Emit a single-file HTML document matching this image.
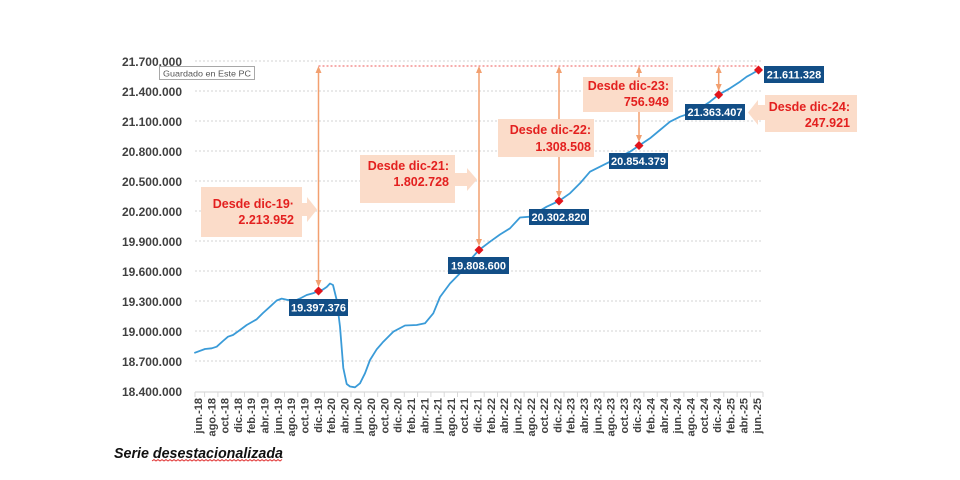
<!DOCTYPE html>
<html><head><meta charset="utf-8"><style>
html,body{margin:0;padding:0;background:#fff;}
svg{display:block;}
text{font-family:"Liberation Sans",Arial,sans-serif;}
</style></head><body>
<svg width="960" height="480" viewBox="0 0 960 480" xmlns="http://www.w3.org/2000/svg">
<rect width="960" height="480" fill="#fff"/>
<!-- gridlines -->
<g stroke="#d3d3d3" stroke-width="1" stroke-dasharray="2 2">
<line x1="195" y1="61" x2="763" y2="61"/>
<line x1="195" y1="91" x2="763" y2="91"/>
<line x1="195" y1="121" x2="763" y2="121"/>
<line x1="195" y1="151" x2="763" y2="151"/>
<line x1="195" y1="181" x2="763" y2="181"/>
<line x1="195" y1="211" x2="763" y2="211"/>
<line x1="195" y1="241" x2="763" y2="241"/>
<line x1="195" y1="271" x2="763" y2="271"/>
<line x1="195" y1="301" x2="763" y2="301"/>
<line x1="195" y1="331" x2="763" y2="331"/>
<line x1="195" y1="361" x2="763" y2="361"/>
</g>
<line x1="195" y1="392" x2="763" y2="392" stroke="#d9d9d9" stroke-width="1.2"/>
<g stroke="#d9d9d9" stroke-width="1">
<line x1="195" y1="392" x2="195" y2="397"/><line x1="204.6" y1="392" x2="204.6" y2="397"/><line x1="217.9" y1="392" x2="217.9" y2="397"/><line x1="231.2" y1="392" x2="231.2" y2="397"/><line x1="244.5" y1="392" x2="244.5" y2="397"/><line x1="257.9" y1="392" x2="257.9" y2="397"/><line x1="271.2" y1="392" x2="271.2" y2="397"/><line x1="284.5" y1="392" x2="284.5" y2="397"/><line x1="297.8" y1="392" x2="297.8" y2="397"/><line x1="311.1" y1="392" x2="311.1" y2="397"/><line x1="324.4" y1="392" x2="324.4" y2="397"/><line x1="337.7" y1="392" x2="337.7" y2="397"/><line x1="351" y1="392" x2="351" y2="397"/><line x1="364.4" y1="392" x2="364.4" y2="397"/><line x1="377.7" y1="392" x2="377.7" y2="397"/><line x1="391" y1="392" x2="391" y2="397"/><line x1="404.3" y1="392" x2="404.3" y2="397"/><line x1="417.6" y1="392" x2="417.6" y2="397"/><line x1="430.9" y1="392" x2="430.9" y2="397"/><line x1="444.2" y1="392" x2="444.2" y2="397"/><line x1="457.5" y1="392" x2="457.5" y2="397"/><line x1="470.9" y1="392" x2="470.9" y2="397"/><line x1="484.2" y1="392" x2="484.2" y2="397"/><line x1="497.5" y1="392" x2="497.5" y2="397"/><line x1="510.8" y1="392" x2="510.8" y2="397"/><line x1="524.1" y1="392" x2="524.1" y2="397"/><line x1="537.4" y1="392" x2="537.4" y2="397"/><line x1="550.7" y1="392" x2="550.7" y2="397"/><line x1="564" y1="392" x2="564" y2="397"/><line x1="577.4" y1="392" x2="577.4" y2="397"/><line x1="590.7" y1="392" x2="590.7" y2="397"/><line x1="604" y1="392" x2="604" y2="397"/><line x1="617.3" y1="392" x2="617.3" y2="397"/><line x1="630.6" y1="392" x2="630.6" y2="397"/><line x1="643.9" y1="392" x2="643.9" y2="397"/><line x1="657.2" y1="392" x2="657.2" y2="397"/><line x1="670.5" y1="392" x2="670.5" y2="397"/><line x1="683.9" y1="392" x2="683.9" y2="397"/><line x1="697.2" y1="392" x2="697.2" y2="397"/><line x1="710.5" y1="392" x2="710.5" y2="397"/><line x1="723.8" y1="392" x2="723.8" y2="397"/><line x1="737.1" y1="392" x2="737.1" y2="397"/><line x1="750.4" y1="392" x2="750.4" y2="397"/><line x1="763" y1="392" x2="763" y2="397"/>
</g>
<!-- y labels -->
<g font-size="12" font-weight="bold" fill="#404040" text-anchor="end">
<text x="182" y="66">21.700.000</text>
<text x="182" y="96">21.400.000</text>
<text x="182" y="126">21.100.000</text>
<text x="182" y="156">20.800.000</text>
<text x="182" y="186">20.500.000</text>
<text x="182" y="216">20.200.000</text>
<text x="182" y="246">19.900.000</text>
<text x="182" y="276">19.600.000</text>
<text x="182" y="306">19.300.000</text>
<text x="182" y="336">19.000.000</text>
<text x="182" y="366">18.700.000</text>
<text x="182" y="396">18.400.000</text>
</g>
<!-- x labels -->
<g font-size="11" font-weight="bold" fill="#404040" text-anchor="end">
<text transform="translate(202,398) rotate(-90)">jun.-18</text>
<text transform="translate(215.3,398) rotate(-90)">ago.-18</text>
<text transform="translate(228.6,398) rotate(-90)">oct.-18</text>
<text transform="translate(241.9,398) rotate(-90)">dic.-18</text>
<text transform="translate(255.2,398) rotate(-90)">feb.-19</text>
<text transform="translate(268.6,398) rotate(-90)">abr.-19</text>
<text transform="translate(281.9,398) rotate(-90)">jun.-19</text>
<text transform="translate(295.2,398) rotate(-90)">ago.-19</text>
<text transform="translate(308.5,398) rotate(-90)">oct.-19</text>
<text transform="translate(321.8,398) rotate(-90)">dic.-19</text>
<text transform="translate(335.1,398) rotate(-90)">feb.-20</text>
<text transform="translate(348.4,398) rotate(-90)">abr.-20</text>
<text transform="translate(361.7,398) rotate(-90)">jun.-20</text>
<text transform="translate(375,398) rotate(-90)">ago.-20</text>
<text transform="translate(388.3,398) rotate(-90)">oct.-20</text>
<text transform="translate(401.7,398) rotate(-90)">dic.-20</text>
<text transform="translate(415,398) rotate(-90)">feb.-21</text>
<text transform="translate(428.3,398) rotate(-90)">abr.-21</text>
<text transform="translate(441.6,398) rotate(-90)">jun.-21</text>
<text transform="translate(454.9,398) rotate(-90)">ago.-21</text>
<text transform="translate(468.2,398) rotate(-90)">oct.-21</text>
<text transform="translate(481.5,398) rotate(-90)">dic.-21</text>
<text transform="translate(494.8,398) rotate(-90)">feb.-22</text>
<text transform="translate(508.1,398) rotate(-90)">abr.-22</text>
<text transform="translate(521.4,398) rotate(-90)">jun.-22</text>
<text transform="translate(534.8,398) rotate(-90)">ago.-22</text>
<text transform="translate(548.1,398) rotate(-90)">oct.-22</text>
<text transform="translate(561.4,398) rotate(-90)">dic.-22</text>
<text transform="translate(574.7,398) rotate(-90)">feb.-23</text>
<text transform="translate(588,398) rotate(-90)">abr.-23</text>
<text transform="translate(601.3,398) rotate(-90)">jun.-23</text>
<text transform="translate(614.6,398) rotate(-90)">ago.-23</text>
<text transform="translate(627.9,398) rotate(-90)">oct.-23</text>
<text transform="translate(641.2,398) rotate(-90)">dic.-23</text>
<text transform="translate(654.5,398) rotate(-90)">feb.-24</text>
<text transform="translate(667.9,398) rotate(-90)">abr.-24</text>
<text transform="translate(681.2,398) rotate(-90)">jun.-24</text>
<text transform="translate(694.5,398) rotate(-90)">ago.-24</text>
<text transform="translate(707.8,398) rotate(-90)">oct.-24</text>
<text transform="translate(721.1,398) rotate(-90)">dic.-24</text>
<text transform="translate(734.4,398) rotate(-90)">feb.-25</text>
<text transform="translate(747.7,398) rotate(-90)">abr.-25</text>
<text transform="translate(761,398) rotate(-90)">jun.-25</text>
</g>
<!-- red dotted top line -->
<line x1="318.5" y1="66" x2="758.5" y2="66" stroke="#ee5a5a" stroke-width="1" stroke-dasharray="2 2"/>
<!-- orange arrows -->
<g stroke="#f2a070" stroke-width="1.5">
<line x1="318.5" y1="68" x2="318.5" y2="285"/>
<line x1="479" y1="68" x2="479" y2="244"/>
<line x1="559" y1="68" x2="559" y2="196"/>
<line x1="639" y1="68" x2="639" y2="140"/>
<line x1="718.7" y1="68" x2="718.7" y2="89"/>
</g>
<g fill="#f2a070">
<polygon points="315.5,73 318.5,66 321.5,73"/><polygon points="315.5,280 318.5,287 321.5,280"/>
<polygon points="476,73 479,66 482,73"/><polygon points="476,239 479,246 482,239"/>
<polygon points="556,73 559,66 562,73"/><polygon points="556,191 559,198 562,191"/>
<polygon points="636,73 639,66 642,73"/><polygon points="636,135 639,142 642,135"/>
<polygon points="715.7,73 718.7,66 721.7,73"/><polygon points="715.7,84 718.7,91 721.7,84"/>
</g>
<!-- curve -->
<polyline fill="none" stroke="#3a9bd8" stroke-width="1.8" stroke-linejoin="round" stroke-linecap="round" points="195,352.7 205,349 211.7,348.3 216.7,346.7 223,341 228,336.7 233,335 240,330 246.7,325 256.7,319.3 263,313 270,306.7 276.7,300.5 281.7,298.6 286.7,299.8 295,300.7 300,298.5 306.7,295 313,293.3 318.5,291 323,289.5 326.7,287 330,283.5 333,285 336.7,300 340,326.7 343.3,368 346.7,384 350,386.5 355,387.3 360,383.3 365,373.3 370,360 376.7,349.3 383.3,341.7 393.3,331.7 405,325.5 416.7,325 425,323.3 433.3,313.3 440,297 450,283.5 460,273.3 470,260 479,250 490,241.7 500,234.5 510,228.3 520,217.5 530,216.7 546.7,206.7 559,201 570,193.3 580,183.3 590,171.7 600,166.7 610,161.7 620,156.7 630,151.7 639,145.6 650,138.3 660,130 670,121.7 680,116.7 690,113.3 700,108.3 710,101.7 718.7,94.7 730,88.3 740,81.7 746.7,76.7 751.7,74 758.5,70"/>
<!-- peach callouts -->
<g fill="#fbdcc9">
<rect x="201" y="187" width="101" height="50"/>
<polygon points="302,203 307,203 307,197 317,209.5 307,222 307,216 302,216"/>
<rect x="360" y="155" width="95" height="48"/>
<polygon points="455,173 467,173 467,168 477,179.5 467,191 467,186 455,186"/>
<rect x="498" y="119" width="96" height="38"/>
<rect x="583" y="77" width="90" height="35"/>
<rect x="765" y="95" width="92" height="37"/>
<polygon points="765,105 758,105 758,100 748,112.5 758,125 758,120 765,120"/>
</g>
<g font-size="12.5" font-weight="bold" fill="#e3201f" text-anchor="end">
<text x="294" y="208">Desde dic-19·</text>
<text x="294" y="224">2.213.952</text>
<text x="449" y="170">Desde dic-21:</text>
<text x="449" y="186">1.802.728</text>
<text x="591" y="134">Desde dic-22:</text>
<text x="591" y="151">1.308.508</text>
<text x="669" y="90">Desde dic-23:</text>
<text x="669" y="106">756.949</text>
<text x="850" y="111">Desde dic-24:</text>
<text x="850" y="127">247.921</text>
</g>
<!-- markers -->
<g fill="#e2141c">
<polygon points="318.5,286.5 323,291 318.5,295.5 314,291"/>
<polygon points="479,245.5 483.5,250 479,254.5 474.5,250"/>
<polygon points="559,196.5 563.5,201 559,205.5 554.5,201"/>
<polygon points="639,141 643.5,145.6 639,150 634.5,145.6"/>
<polygon points="718.7,90.2 723.2,94.7 718.7,99.2 714.2,94.7"/>
<polygon points="758.5,65.5 763,70 758.5,74.5 754,70"/>
</g>
<!-- blue value labels -->
<g fill="#124e86">
<rect x="289" y="299" width="59" height="17"/>
<rect x="448" y="257" width="61" height="17"/>
<rect x="529" y="209" width="60" height="16"/>
<rect x="609" y="153" width="59" height="16"/>
<rect x="685" y="104" width="60" height="16"/>
<rect x="764" y="66" width="60" height="17"/>
</g>
<g font-size="11" font-weight="bold" fill="#fff" text-anchor="middle">
<text x="318.5" y="311.5">19.397.376</text>
<text x="478.5" y="269.5">19.808.600</text>
<text x="559" y="221">20.302.820</text>
<text x="638.5" y="165">20.854.379</text>
<text x="715" y="116">21.363.407</text>
<text x="794" y="78.5">21.611.328</text>
</g>
<!-- tooltip -->
<rect x="159.5" y="66.5" width="95" height="13" fill="#fff" stroke="#a8a8a8" stroke-width="1"/>
<text x="163" y="76.5" font-size="8.5" fill="#555" textLength="88" lengthAdjust="spacingAndGlyphs">Guardado en Este PC</text>
<!-- footnote -->
<text x="114" y="458" font-size="14.5" font-weight="bold" font-style="italic" fill="#111" textLength="169" lengthAdjust="spacingAndGlyphs">Serie desestacionalizada</text>
<path d="M152,461 l2,-1.5 l2,1.5 l2,-1.5 l2,1.5 l2,-1.5 l2,1.5 l2,-1.5 l2,1.5 l2,-1.5 l2,1.5 l2,-1.5 l2,1.5 l2,-1.5 l2,1.5 l2,-1.5 l2,1.5 l2,-1.5 l2,1.5 l2,-1.5 l2,1.5 l2,-1.5 l2,1.5 l2,-1.5 l2,1.5 l2,-1.5 l2,1.5 l2,-1.5 l2,1.5 l2,-1.5 l2,1.5 l2,-1.5 l2,1.5 l2,-1.5 l2,1.5 l2,-1.5 l2,1.5 l2,-1.5 l2,1.5 l2,-1.5 l2,1.5 l2,-1.5 l2,1.5 l2,-1.5 l2,1.5 l2,-1.5 l2,1.5 l2,-1.5 l2,1.5 l2,-1.5 l2,1.5 l2,-1.5 l2,1.5 l2,-1.5 l2,1.5 l2,-1.5 l2,1.5 l2,-1.5 l2,1.5 l2,-1.5 l2,1.5 l2,-1.5 l2,1.5 l2,-1.5 l2,1.5 l2,-1.5" fill="none" stroke="#e03030" stroke-width="0.9"/>
</svg>
</body></html>
